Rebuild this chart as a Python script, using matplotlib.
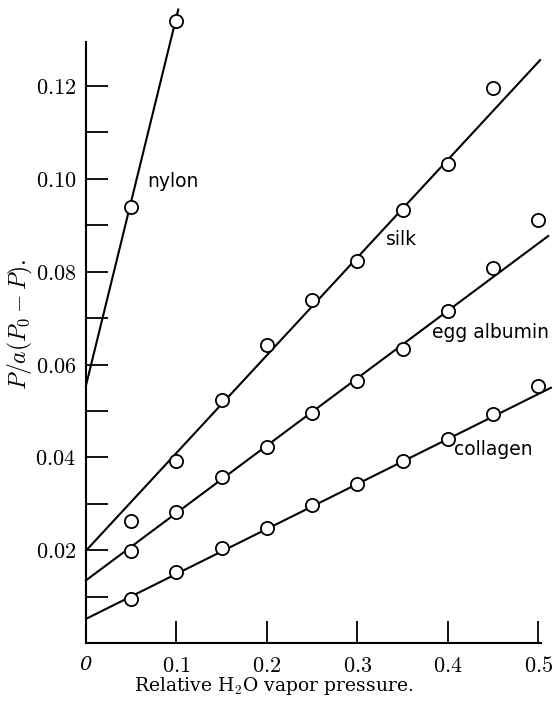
import matplotlib
matplotlib.use("Agg")
import matplotlib.pyplot as plt
from matplotlib.ticker import FixedLocator, FixedFormatter

plt.rcParams['mathtext.fontset'] = 'cm'

# data points
x_nylon = [0.05, 0.10]
y_nylon = [0.094, 0.134]
x_silk = [0.05, 0.10, 0.15, 0.20, 0.25, 0.30, 0.35, 0.40, 0.45]
y_silk = [0.0263, 0.0393, 0.0524, 0.0642, 0.0740, 0.0823, 0.0933, 0.1032, 0.1196]
x_egg = [0.05, 0.10, 0.15, 0.20, 0.25, 0.30, 0.35, 0.40, 0.45, 0.50]
y_egg = [0.0199, 0.0282, 0.0358, 0.0423, 0.0496, 0.0565, 0.0634, 0.0716, 0.0807, 0.0912]
x_col = [0.05, 0.10, 0.15, 0.20, 0.25, 0.30, 0.35, 0.40, 0.45, 0.50]
y_col = [0.0095, 0.0152, 0.0205, 0.0247, 0.0297, 0.0343, 0.0392, 0.0439, 0.0493, 0.0554]

# fitted straight lines (end points)
fit_nylon_x = [0.0, 0.102]
fit_nylon_y = [0.0555, 0.1365]
fit_silk_x = [0.0, 0.502]
fit_silk_y = [0.0199, 0.1256]
fit_egg_x = [0.0, 0.511]
fit_egg_y = [0.0135, 0.0877]
fit_col_x = [0.0, 0.514]
fit_col_y = [0.0052, 0.0550]

labels = ["nylon", "silk", "egg albumin", "collagen"]

xticks = [0.0, 0.1, 0.2, 0.3, 0.4, 0.5]
xticklabels = ["0", "$0.1$", "$0.2$", "$0.3$", "$0.4$", "$0.5$"]
yticks = [0.02, 0.04, 0.06, 0.08, 0.10, 0.12]
yticklabels = ["$0.02$", "$0.04$", "$0.06$", "$0.08$", "$0.10$", "$0.12$"]
yminor = [0.01, 0.03, 0.05, 0.07, 0.09, 0.11]

fig = plt.figure(figsize=(5.54, 7.02), dpi=100)
ax = fig.add_axes([86/554, 59/702, 455/554, 601/702])
ax.set_xlim(0, 0.503)
ax.set_ylim(0, 0.1295)

lw = 1.5
for fx, fy in [(fit_nylon_x, fit_nylon_y), (fit_silk_x, fit_silk_y),
               (fit_egg_x, fit_egg_y), (fit_col_x, fit_col_y)]:
    ax.plot(fx, fy, color='black', lw=lw, clip_on=False, zorder=2)

for xs, ys in [(x_nylon, y_nylon), (x_silk, y_silk), (x_egg, y_egg), (x_col, y_col)]:
    ax.plot(xs, ys, linestyle='none', marker='o', markersize=9.5,
            markerfacecolor='white', markeredgecolor='black',
            markeredgewidth=1.3, clip_on=False, zorder=3)

lab_font = dict(family='DejaVu Sans', fontsize=13.5, color='black')
ax.text(0.0675, 0.0995, labels[0], ha='left', va='center', **lab_font)
ax.text(0.332, 0.0870, labels[1], ha='left', va='center', **lab_font)
ax.text(0.383, 0.0670, labels[2], ha='left', va='center', **lab_font)
ax.text(0.407, 0.0418, labels[3], ha='left', va='center', **lab_font)

for s in ['top', 'right']:
    ax.spines[s].set_visible(False)
for s in ['left', 'bottom']:
    ax.spines[s].set_linewidth(1.5)

ax.xaxis.set_major_locator(FixedLocator(xticks))
ax.xaxis.set_major_formatter(FixedFormatter(xticklabels))
ax.yaxis.set_major_locator(FixedLocator(yticks))
ax.yaxis.set_major_formatter(FixedFormatter(yticklabels))
ax.yaxis.set_minor_locator(FixedLocator(yminor))

ax.tick_params(axis='both', which='both', direction='in', length=16, width=1.3,
               labelsize=16, pad=8)
ax.tick_params(axis='x', which='major', pad=9)
ax.tick_params(axis='y', which='major', pad=7)

zero_lbl = ax.get_xticklabels()[0]
zero_lbl.set_fontstyle('italic')
zero_lbl.set_family('DejaVu Serif')
zero_lbl.set_fontsize(14)

ax.set_xlabel("Relative H$_2$O vapor pressure.", fontsize=13.5,
              family='DejaVu Serif')
ax.xaxis.set_label_coords(0.413, -0.053)
ax.xaxis.label.set_va('top')
ax.set_ylabel("$P/a(P_0 - P).$", fontsize=17)
ax.yaxis.set_label_coords(-0.113, 0.53)

fig.savefig("out.png", dpi=100)
